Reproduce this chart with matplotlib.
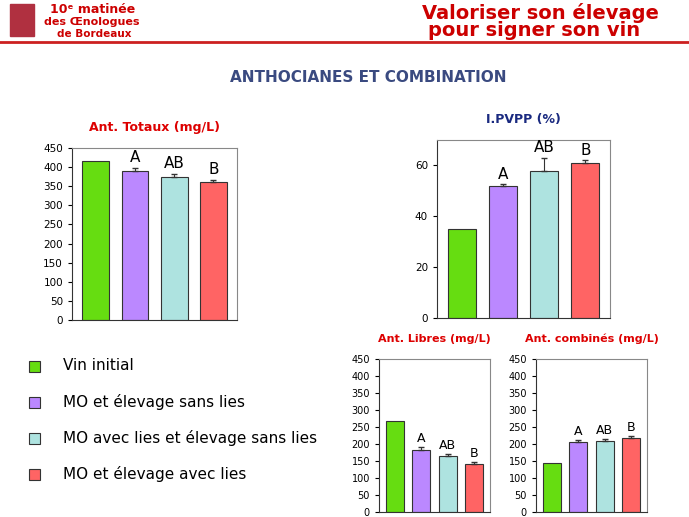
import matplotlib.pyplot as plt
from matplotlib.patches import Rectangle

groups = ["Vin initial", "MO et élevage sans lies",
          "MO avec lies et élevage sans lies", "MO et élevage avec lies"]
colors = ["#66DD11", "#BB88FF", "#AEE3E0", "#FF6464"]

tot_vals = [415, 390, 375, 362]
tot_err = [0, 8, 8, 5]
pvpp_vals = [35, 52, 58, 61]
pvpp_err = [0, 0.6, 5, 1]
lib_vals = [268, 182, 165, 142]
lib_err = [0, 8, 5, 4]
comb_vals = [143, 205, 210, 218]
comb_err = [0, 6, 5, 6]
letters = ["", "A", "AB", "B"]

W, H = 689, 517
fig = plt.figure(figsize=(W / 100, H / 100), dpi=100)


def box(x0, y0, x1, y1):
    # pixel box (top-left origin) -> figure coords
    return [x0 / W, 1 - y1 / H, (x1 - x0) / W, (y1 - y0) / H]


def bars(rect, vals, errs, ymax, step, title, tcolor, fs=8, lfs=11, tfs=9):
    ax = fig.add_axes(box(*rect))
    x = list(range(len(vals)))
    ax.bar(x, vals, width=0.68, color=colors, edgecolor="#333333", linewidth=0.8)
    ax.errorbar(x[1:], vals[1:], yerr=[[0] * (len(errs) - 1), errs[1:]],
                fmt="none", ecolor="#333333", elinewidth=0.8, capsize=2.5)
    for i, (v, e, l) in enumerate(zip(vals, errs, letters)):
        if l:
            ax.text(i, v + e + ymax * 0.015, l, ha="center", va="bottom",
                    fontsize=lfs)
    ax.set_xlim(-0.6, len(vals) - 0.4)
    ax.set_ylim(0, ymax)
    ax.set_yticks(range(0, int(ymax) + 1, step))
    ax.set_xticks([])
    ax.tick_params(axis="y", labelsize=fs, length=3)
    for s in ax.spines.values():
        s.set_color("#888888")
    ax.spines["left"].set_color("#333333")
    ax.spines["bottom"].set_color("#333333")
    ax.set_title(title, color=tcolor, fontsize=tfs, fontweight="bold", pad=12)
    return ax


bars((72, 148, 237, 320), tot_vals, tot_err, 450, 50,
     "Ant. Totaux (mg/L)", "#DD0000", fs=7.5)
bars((437, 140, 610, 318), pvpp_vals, pvpp_err, 70, 20,
     "I.PVPP (%)", "#1A2A80", fs=7.5)
bars((379, 359, 490, 512), lib_vals, lib_err, 450, 50,
     "Ant. Libres (mg/L)", "#DD0000", fs=7, lfs=9, tfs=8)
bars((536, 359, 647, 512), comb_vals, comb_err, 450, 50,
     "Ant. combinés (mg/L)", "#DD0000", fs=7, lfs=9, tfs=8)

# header
fig.text(50 / W, 1 - 9 / H, "10ᵉ matinée", color="#CC0000", fontsize=9,
         fontweight="bold", va="center", x=50 / W) if False else None
fig.text(50 / W, 1 - 9 / H, "10ᵉ matinée", color="#CC0000", fontsize=9,
         fontweight="bold", va="center")
fig.text(44 / W, 1 - 22 / H, "des Œnologues", color="#CC0000", fontsize=8,
         fontweight="bold", va="center")
fig.text(57 / W, 1 - 34 / H, "de Bordeaux", color="#CC0000", fontsize=7.5,
         fontweight="bold", va="center")
fig.add_artist(Rectangle((10 / W, 1 - 36 / H), 24 / W, 32 / H,
                         transform=fig.transFigure, color="#B03040"))
fig.text(422 / W, 1 - 13 / H, "Valoriser son élevage", color="#CC0000",
         fontsize=14, fontweight="bold", va="center")
fig.text(428 / W, 1 - 31 / H, "pour signer son vin", color="#CC0000",
         fontsize=14, fontweight="bold", va="center")
fig.add_artist(plt.Line2D([0, 1], [1 - 42 / H] * 2, color="#CC2020", lw=2,
                          transform=fig.transFigure))
fig.text(368 / W, 1 - 78 / H, "ANTHOCIANES ET COMBINATION", color="#3A4A80",
         fontsize=11, fontweight="bold", ha="center", va="center")

# legend
for i, (g, c) in enumerate(zip(groups, colors)):
    y = 366 + i * 36
    fig.add_artist(Rectangle((29 / W, 1 - (y + 6) / H), 11 / W, 11 / H,
                             transform=fig.transFigure, facecolor=c,
                             edgecolor="#333333", lw=0.8))
    fig.text(63 / W, 1 - y / H, g, fontsize=11, va="center")

fig.savefig("out.png", dpi=100)
